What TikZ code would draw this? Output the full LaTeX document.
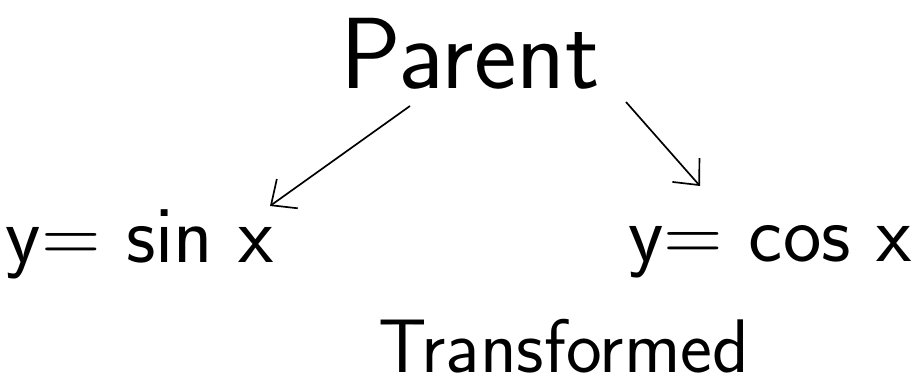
\documentclass[tikz,border=0pt]{standalone}
\usepackage{fontspec}
\usetikzlibrary{arrows.meta}
\begin{document}
\begin{tikzpicture}
  \tikzstyle{word} = [font=\sffamily\fontsize{58}{60}\selectfont, inner sep=2pt]
  \tikzstyle{arr} = [-{Straight Barb[length=5mm, width=9mm]}, line width=1.2pt]
  \useasboundingbox (0,0) rectangle (22.8,9.7);
  \node[word, font=\sffamily\fontsize{72}{74}\selectfont] (parent) at (11.75, 8.35) {Parent};
  \node[word] (sin) at (3.5, 3.6) {y= sin x};
  \node[word] (cos) at (19.25, 3.4) {y= cos x};
  \node[word, font=\sffamily\fontsize{54}{56}\selectfont] (trans) at (14.1, 1.05) {Transformed};
  \draw[arr] ([shift={(-1.5,-1.3)}]parent.center) -- ([shift={(3.25,0.95)}]sin.center);
  \draw[arr] ([shift={(3.9,-1.2)}]parent.center) -- ([shift={(-1.75,1.65)}]cos.center);
\end{tikzpicture}
\end{document}
